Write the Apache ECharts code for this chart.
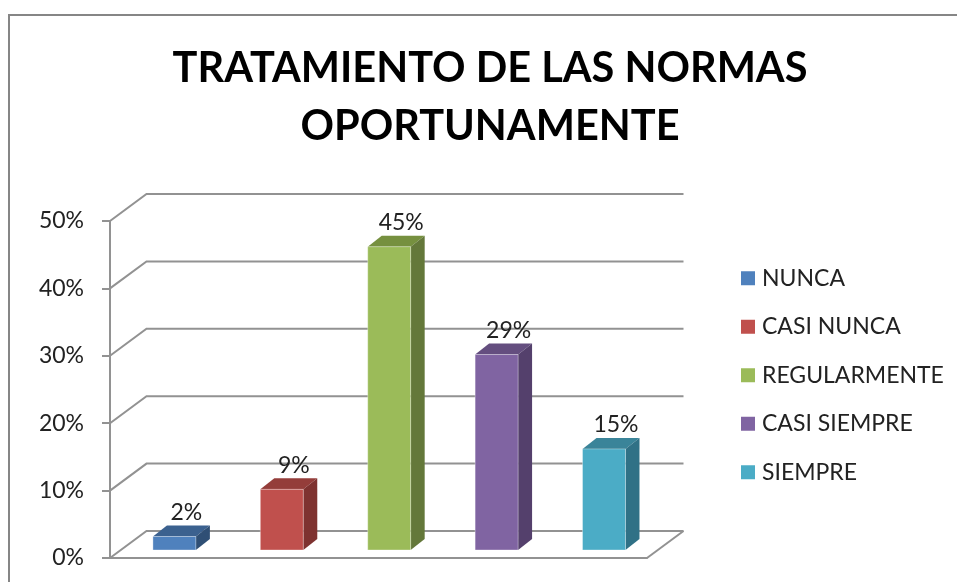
<!DOCTYPE html>
<html><head><meta charset="utf-8">
<style>html,body{margin:0;padding:0;background:#fff}#c{width:957px;height:582px}</style>
<script src="https://cdn.jsdelivr.net/npm/echarts@6/dist/echarts.min.js"></script>
</head><body><div id="c"></div>
<script>
var categories = ['NUNCA','CASI NUNCA','REGULARMENTE','CASI SIEMPRE','SIEMPRE'];
var values = [2,9,45,29,15];
var yTicks = [0,10,20,30,40,50];
var frontColors = ['#4F81BD','#C0504D','#9BBB59','#8064A2','#4BACC6'];
var topColors = ['#3B618F','#943D3A','#76903F','#644E7F','#3A8499'];
var sideColors = ['#2F4F75','#7E3230','#64783A','#54406C','#307186'];
var titleText = 'TRATAMIENTO DE LAS NORMAS\nOPORTUNAMENTE';

var FONT = 'Lato';
var WALL = [36.5,-27], PLANE = [10.7,-8], DEPTH = [14,-11];
var GRID_COLOR = '#929292';

function wallItem(params, api){
  var cs = params.coordSys;
  var y = api.coord([0, api.value(1)])[1];
  var x0 = cs.x, x1 = cs.x + cs.width;
  return {type:'polyline', silent:true,
    shape:{points:[[x0,y],[x0+WALL[0],y+WALL[1]],[x1+WALL[0],y+WALL[1]]]},
    style:{stroke:GRID_COLOR,lineWidth:2,fill:null}};
}
function floorEdge(params, api){
  var cs = params.coordSys;
  var y = api.coord([0,0])[1], x1 = cs.x + cs.width;
  return {type:'line', silent:true,
    shape:{x1:x1,y1:y,x2:x1+WALL[0],y2:y+WALL[1]},
    style:{stroke:GRID_COLOR,lineWidth:2}};
}
function barItem(i){
  return function(params, api){
    var c = api.coord([api.value(0), api.value(1)]);
    var base = api.coord([api.value(0), 0]);
    var w = api.size([1,0])[0]*0.4;
    var l = c[0]+PLANE[0]-w/2, r = l+w, t = c[1]+PLANE[1], b = base[1]+PLANE[1];
    return {type:'group', children:[
      {type:'polygon',shape:{points:[[l,t],[r,t],[r+DEPTH[0],t+DEPTH[1]],[l+DEPTH[0],t+DEPTH[1]]]},style:{fill:topColors[i]}},
      {type:'polygon',shape:{points:[[r,t],[r+DEPTH[0],t+DEPTH[1]],[r+DEPTH[0],b+DEPTH[1]],[r,b]]},style:{fill:sideColors[i]}},
      {type:'rect',shape:{x:l,y:t,width:w,height:b-t},style:{fill:frontColors[i],stroke:'rgba(255,255,255,0.35)',lineWidth:1}},
      {type:'text',style:{text:api.value(1)+'%',x:(l+r)/2+12,y:t-24,align:'center',verticalAlign:'middle',
        font:'23px '+FONT,fill:'#222222'}}
    ]};
  };
}
var series = [
  {type:'custom',name:'wall',silent:true,z:1,clip:false,renderItem:wallItem,
   data:yTicks.map(function(v){return [0,v];})},
  {type:'custom',name:'edge',silent:true,z:1,clip:false,renderItem:floorEdge,data:[[0,0]]}
];
categories.forEach(function(name,i){
  series.push({type:'custom',name:name,z:3,clip:false,renderItem:barItem(i),
    itemStyle:{color:frontColors[i]},data:[[i,values[i]]]});
});
var chart = echarts.init(document.getElementById('c'),null,{renderer:'canvas'});
chart.setOption({
  animation:false,
  backgroundColor:'#fff',
  title:{text:titleText,left:485,top:35,textAlign:'center',
    textStyle:{fontFamily:FONT,fontWeight:'bold',fontSize:41.5,lineHeight:58,color:'#000'}},
  legend:{orient:'vertical',left:741,top:265,padding:0,itemWidth:14,itemHeight:14,itemGap:22,
    icon:'rect',data:categories,selectedMode:false,
    textStyle:{fontFamily:FONT,fontSize:23,color:'#222',lineHeight:26.5,padding:[0,0,0,2]}},
  grid:{left:110,top:221,width:537,height:337,containLabel:false},
  xAxis:{type:'category',data:categories,axisLabel:{show:false},axisTick:{show:false},
    axisLine:{lineStyle:{color:GRID_COLOR,width:2}},splitLine:{show:false}},
  yAxis:{type:'value',min:0,max:50,interval:10,splitLine:{show:false},
    axisLine:{show:true,lineStyle:{color:GRID_COLOR,width:2}},
    axisTick:{show:true,length:8,lineStyle:{color:GRID_COLOR,width:2}},
    axisLabel:{formatter:'{value}%',fontFamily:FONT,fontSize:23,color:'#222',margin:26,padding:[5,0,0,0]}},
  graphic:[{type:'polyline',silent:true,z:0,
    shape:{points:[[9,582],[9,15],[957,15]]},
    style:{stroke:'#868686',lineWidth:2,fill:null}}],
  series:series
});
</script></body></html>
